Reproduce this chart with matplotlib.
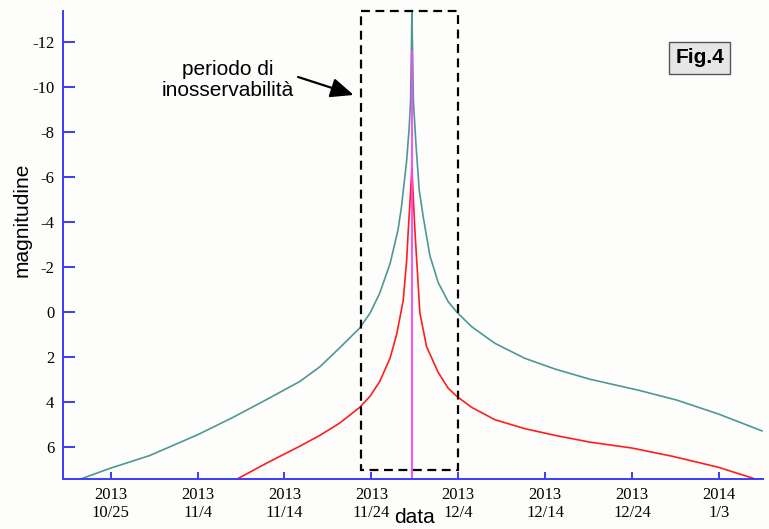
import datetime as dt
import matplotlib
matplotlib.use('Agg')
import matplotlib.pyplot as plt
import matplotlib.dates as mdates
from matplotlib.patches import Rectangle

plt.rcParams['font.family'] = ['Liberation Sans', 'DejaVu Sans']
plt.rcParams['axes.unicode_minus'] = False

# perihelion date, curves are given as days from it
perihelion = dt.datetime(2013, 11, 28, 16)

teal_days = [-38.2, -34.7, -30.2, -24.6, -20.6, -16.7, -12.9, -10.6, -8.3, -6.0,
             -4.8, -3.7, -2.5, -1.6, -1.2, -0.6, -0.31, -0.15, -0.06, 0.0,
             0.08, 0.17, 0.46, 0.84, 1.3, 2.07, 3.03, 4.18, 5.14,
             6.87, 9.55, 13.0, 16.5, 20.5, 26.2, 30.5, 35.3, 40.3]
teal_mag = [7.45, 6.96, 6.4, 5.46, 4.7, 3.9, 3.1, 2.45, 1.6, 0.72,
            0.05, -0.83, -2.16, -3.64, -4.66, -6.74, -8.2, -9.4, -11.6, -13.4,
            -11.6, -9.4, -7.52, -5.42, -4.24, -2.5, -1.3, -0.45, 0.0,
            0.66, 1.4, 2.07, 2.55, 3.0, 3.5, 3.93, 4.55, 5.3]

red_days = [-20.4, -16.7, -12.9, -10.6, -8.3, -6.0, -4.8, -3.7, -2.5, -1.75,
            -1.0, -0.6, -0.42, -0.23, 0.0, 0.17, 0.35, 0.92, 1.69, 3.03,
            4.18, 5.14, 6.87, 9.55, 13.0, 16.5, 20.5, 25.3, 30.0, 35.3,
            39.2, 39.8]
red_mag = [7.5, 6.73, 5.98, 5.5, 4.95, 4.25, 3.75, 3.1, 2.05, 1.0,
           -0.5, -2.3, -3.6, -4.8, -6.4, -5.0, -3.6, 0.05, 1.55, 2.7,
           3.4, 3.75, 4.25, 4.8, 5.2, 5.5, 5.8, 6.06, 6.43, 6.92,
           7.4, 7.5]

magenta_days = [0.0, 0.0]
magenta_mag = [7.5, -11.6]

# dashed box: period when the comet cannot be observed
box_start = dt.datetime(2013, 11, 22, 20)
box_end = dt.datetime(2013, 12, 4, 0)
box_mag = (7.05, -13.4)

tick_dates = [dt.datetime(2013, 10, 25), dt.datetime(2013, 11, 4), dt.datetime(2013, 11, 14),
              dt.datetime(2013, 11, 24), dt.datetime(2013, 12, 4), dt.datetime(2013, 12, 14),
              dt.datetime(2013, 12, 24), dt.datetime(2014, 1, 3)]
mag_ticks = [-12, -10, -8, -6, -4, -2, 0, 2, 4, 6]


def to_dates(days):
    return [perihelion + dt.timedelta(days=d) for d in days]


blue = '#3b3bff'
bg = '#fdfdfb'

fig = plt.figure(figsize=(7.69, 5.29), dpi=100, facecolor=bg)
ax = fig.add_axes([0.0813, 0.0945, 0.9105, 0.8853], facecolor=bg)

ax.plot(to_dates(teal_days), teal_mag, color='#4f9797', lw=1.2)
ax.plot(to_dates(red_days), red_mag, color='#ff1e1e', lw=1.2)
ax.plot(to_dates(magenta_days), magenta_mag, color='#ff40ff', lw=1.3)

x0 = mdates.date2num(box_start)
x1 = mdates.date2num(box_end)
ax.add_patch(Rectangle((x0, box_mag[1]), x1 - x0, box_mag[0] - box_mag[1],
                       fill=False, ec='black', lw=1.6, ls=(0, (4, 2.5)),
                       clip_on=False, zorder=5))

ax.set_xlim(dt.datetime(2013, 10, 19, 11), dt.datetime(2014, 1, 8, 1))
ax.set_ylim(7.44, -13.4)

ax.set_xticks(tick_dates)
ax.set_xticklabels(['{}\n{}/{}'.format(d.year, d.month, d.day) for d in tick_dates])
ax.set_yticks(mag_ticks)
ax.set_yticklabels([str(v) for v in mag_ticks])

for lab in ax.get_xticklabels() + ax.get_yticklabels():
    lab.set_family('Liberation Serif')
    lab.set_fontsize(12)
for lab in ax.get_xticklabels():
    lab.set_linespacing(1.1)

ax.tick_params(axis='y', direction='in', length=8.5, width=1.4, color=blue, pad=6)
ax.tick_params(axis='x', direction='in', length=5.3, width=1.4, color=blue, pad=6)

for side in ['top', 'right']:
    ax.spines[side].set_visible(False)
for side in ['left', 'bottom']:
    ax.spines[side].set_color(blue)
    ax.spines[side].set_linewidth(1.4)

ax.set_ylabel('magnitudine', fontsize=15)
ax.yaxis.set_label_coords(-0.0436, 0.553)
ax.set_xlabel('data', fontsize=15)
ax.xaxis.set_label_coords(0.502, -0.062)

ax.text(mdates.date2num(perihelion - dt.timedelta(days=21.2)), -10.3,
        'periodo di\ninosservabilità', fontsize=15, ha='center', va='center',
        linespacing=1.15)
ax.annotate('', xy=(mdates.date2num(perihelion - dt.timedelta(days=6.7)), -9.65),
            xytext=(mdates.date2num(perihelion - dt.timedelta(days=13.1)), -10.45),
            arrowprops=dict(arrowstyle='-|>,head_length=0.7,head_width=0.3',
                            color='black', lw=1.6, mutation_scale=20,
                            shrinkA=0, shrinkB=0))

ax.text(0.91, 0.899, 'Fig.4', transform=ax.transAxes, fontsize=15, fontweight='bold',
        ha='center', va='center',
        bbox=dict(boxstyle='square,pad=0.3', fc='#e6e6e6', ec='#555555', lw=1))

fig.savefig('out.png', dpi=100, facecolor=bg)
